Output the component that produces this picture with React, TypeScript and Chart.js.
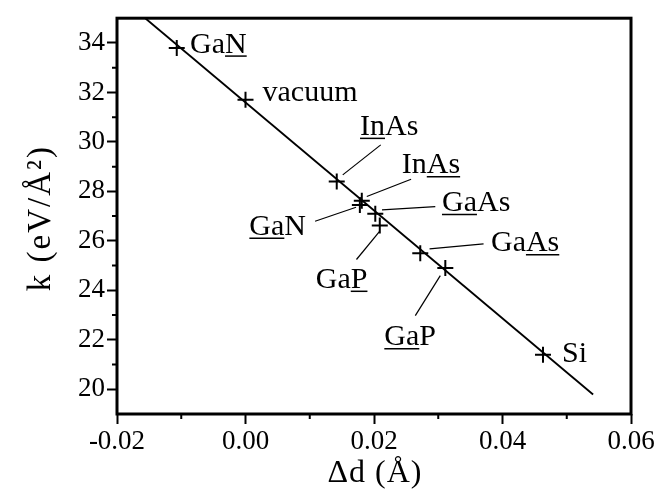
import React, { useEffect, useRef } from "react";
import { Chart, registerables } from "chart.js";

Chart.register(...registerables);

// ---- data ----
const deltaD = [-0.0107, 0.0, 0.0142, 0.0181, 0.0178, 0.0202, 0.0209, 0.0272, 0.0311, 0.0463];
const kValues = [33.8, 31.7, 28.4, 27.62, 27.45, 27.1, 26.62, 25.5, 24.9, 21.4];
const names = ["GaN", "vacuum", "InAs", "InAs", "GaN", "GaAs", "GaP", "GaAs", "GaP", "Si"];
// character range [start, end) of each name that is underlined
const underlined: [number, number][] = [
  [2, 3], [0, 0], [0, 2], [2, 4], [0, 2], [0, 2], [2, 3], [2, 4], [0, 2], [0, 0],
];
const fitX = [-0.0156, 0.0541];
const fitY = [35, 19.79];
const xTicks = [-0.02, 0.0, 0.02, 0.04, 0.06];
const xMinor = [-0.01, 0.01, 0.03, 0.05];
const yTicks = [20, 22, 24, 26, 28, 30, 32, 34];
const yMinor = [21, 23, 25, 27, 29, 31, 33];
const xTitle = "Δd (Å)";
const yTitle = "k (eV/Å²)";

// ---- label layout (pixel offsets from each point) ----
const labelOffsets: [number, number][] = [
  [13.3, 4.7], [17, 1.3], [23.3, -46.6], [40, -27.5], [-110.5, 29.7],
  [66.7, -2.7], [-64, 62.3], [70.7, -2], [-61, 77.3], [19, 7.4],
];
const leaders: (number[] | null)[] = [
  null, null,
  [6, -6.6, 44, -36.6],
  [5, -4.2, 49.3, -21.5],
  [-3.8, 2.3, -44.8, 16.3],
  [6.7, -3.7, 60, -7],
  [0, 5.6, -23.3, 34],
  [9.3, -4.3, 63.3, -9.3],
  [-5, 7.6, -30, 47.6],
  null,
];

const FONT = "'Liberation Serif', 'Times New Roman', serif";

const annotatePlugin = {
  id: "annotate",
  afterDatasetsDraw(chart: any) {
    const ctx = chart.ctx;
    const meta = chart.getDatasetMeta(1);
    ctx.save();
    ctx.fillStyle = "#000";
    ctx.strokeStyle = "#000";
    ctx.font = `30px ${FONT}`;
    ctx.textBaseline = "alphabetic";
    ctx.textAlign = "left";
    meta.data.forEach((el: any, i: number) => {
      const px = el.x;
      const py = el.y;
      const ld = leaders[i];
      if (ld) {
        ctx.lineWidth = 1.2;
        ctx.beginPath();
        ctx.moveTo(px + ld[0], py + ld[1]);
        ctx.lineTo(px + ld[2], py + ld[3]);
        ctx.stroke();
      }
      const tx = px + labelOffsets[i][0];
      const ty = py + labelOffsets[i][1];
      const text = names[i];
      ctx.fillText(text, tx, ty);
      const [s, e] = underlined[i];
      if (e > s) {
        const x0 = tx + ctx.measureText(text.slice(0, s)).width;
        const x1 = tx + ctx.measureText(text.slice(0, e)).width;
        ctx.lineWidth = 1.5;
        ctx.beginPath();
        ctx.moveTo(x0, ty + 3.5);
        ctx.lineTo(x1, ty + 3.5);
        ctx.stroke();
      }
    });
    ctx.restore();
  },
  afterDraw(chart: any) {
    const ctx = chart.ctx;
    const a = chart.chartArea;
    const xs = chart.scales.x;
    const ys = chart.scales.y;
    ctx.save();
    ctx.strokeStyle = "#000";
    ctx.lineWidth = 3;
    ctx.strokeRect(a.left, a.top, a.right - a.left, a.bottom - a.top);
    ctx.lineWidth = 2;
    ctx.beginPath();
    xMinor.forEach((v) => {
      const x = xs.getPixelForValue(v);
      ctx.moveTo(x, a.bottom);
      ctx.lineTo(x, a.bottom + 5);
    });
    yMinor.forEach((v) => {
      const y = ys.getPixelForValue(v);
      ctx.moveTo(a.left, y);
      ctx.lineTo(a.left - 5, y);
    });
    ctx.stroke();

    // axis titles
    ctx.fillStyle = "#000";
    ctx.textAlign = "center";
    ctx.textBaseline = "alphabetic";
    ctx.font = `32px ${FONT}`;
    (ctx as any).letterSpacing = "1px";
    ctx.fillText(xTitle, (a.left + a.right) / 2 + 1, 482);
    ctx.save();
    ctx.translate(50, (a.top + a.bottom) / 2 + 2);
    ctx.rotate(-Math.PI / 2);
    ctx.font = `33px ${FONT}`;
    (ctx as any).letterSpacing = "2px";
    ctx.fillText(yTitle, 0, 0);
    ctx.restore();
    ctx.restore();
  },
};

export default function App() {
  const ref = useRef<HTMLCanvasElement | null>(null);
  useEffect(() => {
    if (!ref.current) return;
    Chart.defaults.font.family = FONT;
    Chart.defaults.color = "#000";
    const chart = new Chart(ref.current, {
      type: "scatter",
      data: {
        datasets: [
          {
            data: fitX.map((x, i) => ({ x, y: fitY[i] })),
            showLine: true,
            pointRadius: 0,
            borderColor: "#000",
            borderWidth: 1.8,
            fill: false,
          },
          {
            data: deltaD.map((x, i) => ({ x, y: kValues[i] })),
            pointStyle: "cross",
            pointRadius: 8,
            pointBorderWidth: 2,
            borderColor: "#000",
            backgroundColor: "#000",
            showLine: false,
          },
        ],
      },
      options: {
        animation: false,
        responsive: false,
        devicePixelRatio: 1,
        layout: { padding: { left: 0, top: 13, right: 27, bottom: 0 } },
        plugins: { legend: { display: false }, tooltip: { enabled: false } },
        scales: {
          x: {
            type: "linear",
            min: -0.02,
            max: 0.06,
            afterBuildTicks: (s: any) => {
              s.ticks = xTicks.map((v) => ({ value: v }));
            },
            afterFit: (s: any) => {
              s.height = 85;
            },
            grid: {
              drawOnChartArea: false,
              drawTicks: true,
              tickLength: 10,
              tickWidth: 2,
              tickColor: "#000",
            },
            border: { display: false },
            ticks: {
              padding: 2,
              maxRotation: 0,
              autoSkip: false,
              font: { size: 27, family: FONT },
              color: "#000",
              callback: (v: any) => Number(v).toFixed(2),
            },
            title: { display: false, text: xTitle },
          },
          y: {
            type: "linear",
            min: 19,
            max: 35,
            afterBuildTicks: (s: any) => {
              s.ticks = yTicks.map((v) => ({ value: v }));
            },
            afterFit: (s: any) => {
              s.width = 117;
            },
            grid: {
              drawOnChartArea: false,
              drawTicks: true,
              tickLength: 10,
              tickWidth: 2,
              tickColor: "#000",
            },
            border: { display: false },
            ticks: {
              padding: 2,
              autoSkip: false,
              font: { size: 27, family: FONT },
              color: "#000",
              callback: (v: any) => String(v),
            },
            title: { display: false, text: yTitle },
          },
        },
      },
      plugins: [annotatePlugin],
    } as any);
    return () => chart.destroy();
  }, []);
  return (
    <div style={{ position: "absolute", left: 0, top: 0, width: 658, height: 499, background: "#fff" }}>
      <canvas ref={ref} width={658} height={499} />
    </div>
  );
}
